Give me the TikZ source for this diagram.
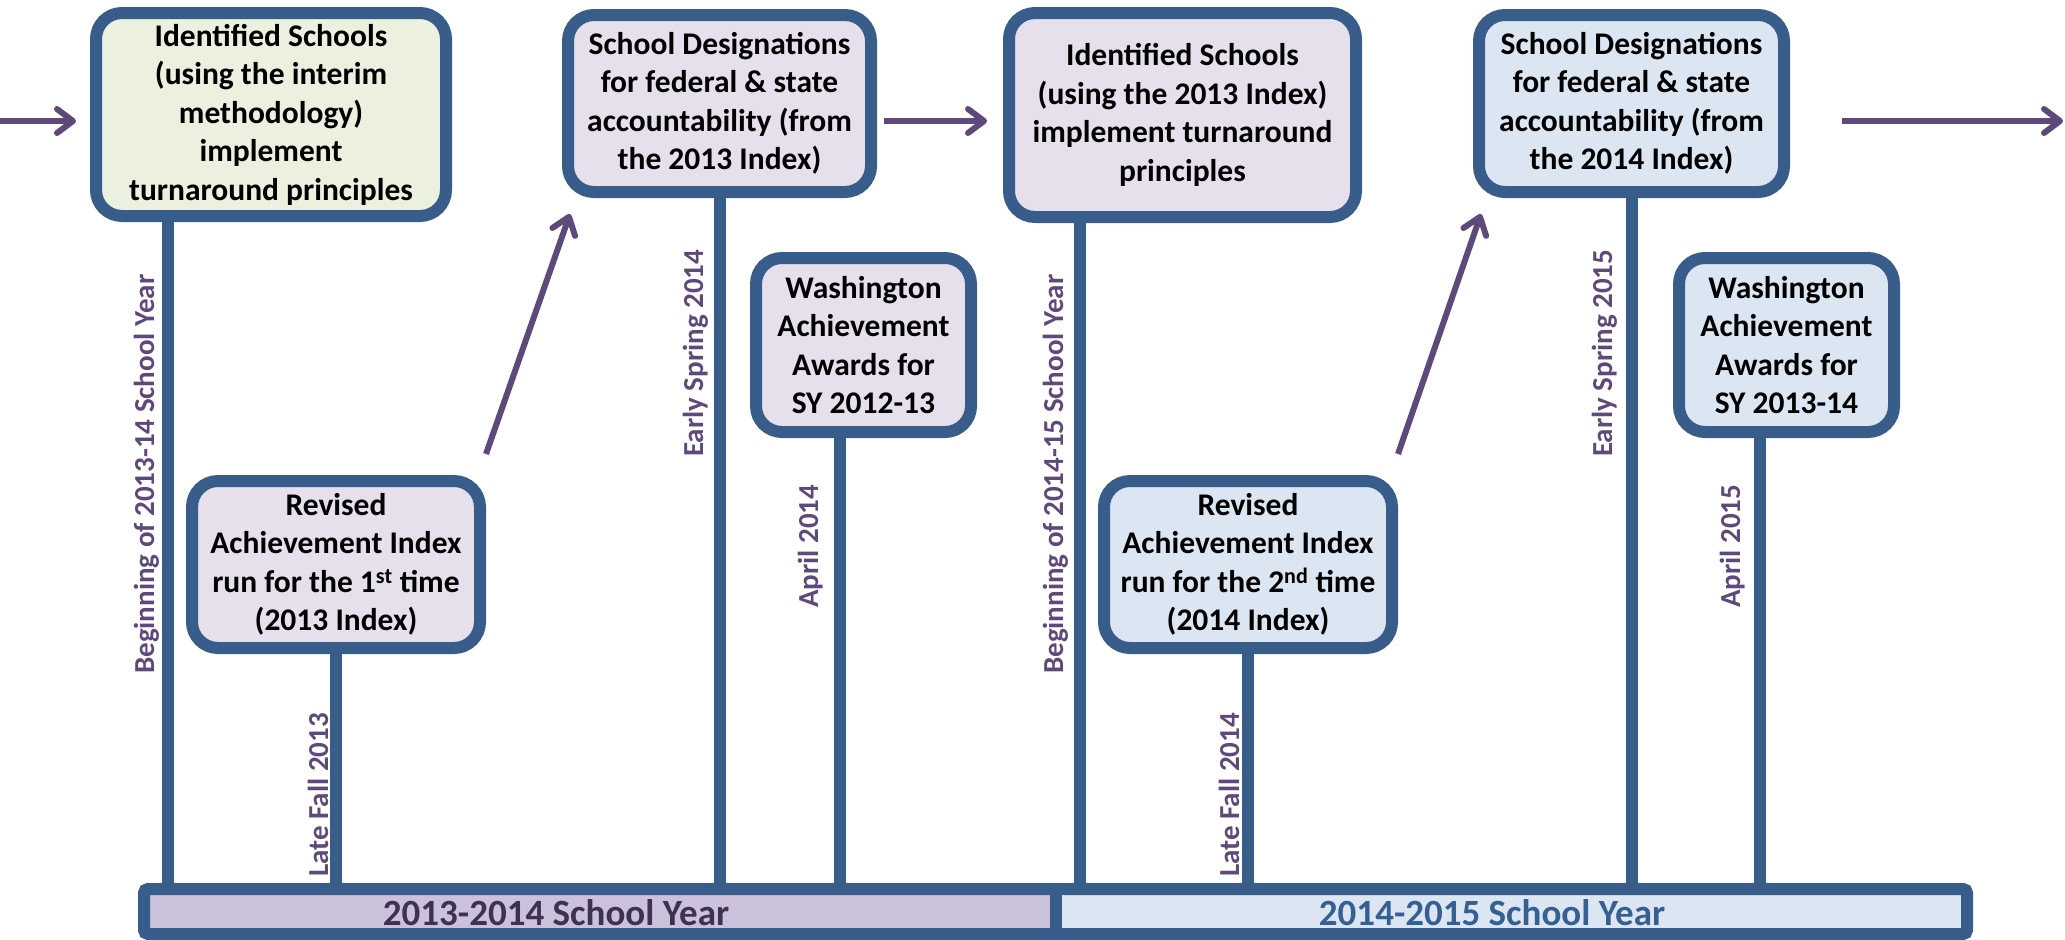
\documentclass[tikz,border=0pt]{standalone}
\usepackage{fontspec}
\setmainfont{Carlito}
\usetikzlibrary{arrows.meta}
\definecolor{bord}{HTML}{385D8A}
\definecolor{fillP}{HTML}{E5E0EC}
\definecolor{fillG}{HTML}{EBF1DE}
\definecolor{fillB}{HTML}{DCE6F2}
\definecolor{barP}{HTML}{CCC1DA}
\definecolor{arrc}{HTML}{5F497A}
\definecolor{labc}{HTML}{5F497A}
\definecolor{yrP}{HTML}{3F3151}
\definecolor{yrB}{HTML}{376092}
\begin{document}
\begin{tikzpicture}[x=1pt,y=-1pt,
 box/.style={draw=bord, line width=12pt, rounded corners=26pt, align=center, inner sep=0pt, font=\fontsize{31.5}{38.5}\selectfont\bfseries},
 stem/.style={draw=bord, line width=12pt},
 arr/.style={draw=arrc, line width=6pt, -{Straight Barb[length=16pt,width=24pt,round]}},
 lab/.style={rotate=90, anchor=base west, inner sep=0pt, text=labc, font=\fontsize{29}{35}\selectfont\bfseries},
 yr/.style={inner sep=0pt, font=\fontsize{37}{44}\selectfont\bfseries}]
\useasboundingbox (0,0) rectangle (2065,940);

% bar fills
\fill[barP] (144,889) rectangle (1056,934);
\fill[fillB] (1056,889) rectangle (1967,934);
\node[draw=bord, line width=12pt, rounded corners=4pt, minimum width=1823pt, minimum height=45pt, inner sep=0pt] (bar) at (1055.5,911.5) {};
\coordinate (dv) at (1056,0);
\draw[stem] (dv |- bar.north) -- (dv |- bar.south);
\node[yr, text=yrP] (yr1) at (556,913) {2013-2014 School Year};
\node[yr, text=yrB] (yr2) at (1492,913) {2014-2015 School Year};

% boxes
\node[box, fill=fillG, minimum width=350pt, minimum height=203pt] (box1) at (271,114.5) {Identified Schools\\(using the interim\\methodology)\\implement\\turnaround principles};
\node[box, fill=fillP, minimum width=303pt, minimum height=177pt] (box2) at (719.5,103.5) {School Designations\\for federal \& state\\accountability (from\\the 2013 Index)};
\node[box, fill=fillP, minimum width=347pt, minimum height=204pt] (box3) at (1182.5,115) {Identified Schools\\(using the 2013 Index)\\implement turnaround\\principles};
\node[box, fill=fillB, minimum width=305pt, minimum height=177pt] (box4) at (1631.5,103.5) {School Designations\\for federal \& state\\accountability (from\\the 2014 Index)};
\node[box, fill=fillP, minimum width=215pt, minimum height=174pt] (box5) at (863.5,345) {Washington\\Achievement\\Awards for\\SY 2012-13};
\node[box, fill=fillP, minimum width=288pt, minimum height=167pt] (box6) at (336,564.5) {Revised\\Achievement Index\\run for the 1\textsuperscript{st} time\\(2013 Index)};
\node[box, fill=fillB, minimum width=288pt, minimum height=167pt] (box7) at (1248,564.5) {Revised\\Achievement Index\\run for the 2\textsuperscript{nd} time\\(2014 Index)};
\node[box, fill=fillB, minimum width=215pt, minimum height=174pt] (box8) at (1786.5,345) {Washington\\Achievement\\Awards for\\SY 2013-14};

% stems
\coordinate (s1) at (168,0);
\coordinate (s2) at (336,0);
\coordinate (s3) at (720,0);
\coordinate (s4) at (840,0);
\coordinate (s5) at (1080,0);
\coordinate (s6) at (1248,0);
\coordinate (s7) at (1632,0);
\coordinate (s8) at (1760,0);
\draw[stem] (s1 |- box1.south) -- (s1 |- bar.north);
\draw[stem] (s2 |- box6.south) -- (s2 |- bar.north);
\draw[stem] (s3 |- box2.south) -- (s3 |- bar.north);
\draw[stem] (s4 |- box5.south) -- (s4 |- bar.north);
\draw[stem] (s5 |- box3.south) -- (s5 |- bar.north);
\draw[stem] (s6 |- box7.south) -- (s6 |- bar.north);
\draw[stem] (s7 |- box4.south) -- (s7 |- bar.north);
\draw[stem] (s8 |- box8.south) -- (s8 |- bar.north);

% labels
\node[lab] (l1) at (154,674) {Beginning of 2013-14 School Year};
\node[lab] (l2) at (328,877) {Late Fall 2013};
\node[lab] (l3) at (703,457) {Early Spring 2014};
\node[lab] (l4) at (818,608) {April 2014};
\node[lab] (l5) at (1063,674) {Beginning of 2014-15 School Year};
\node[lab] (l6) at (1239,877) {Late Fall 2014};
\node[lab] (l7) at (1612,457) {Early Spring 2015};
\node[lab] (l8) at (1740,608) {April 2015};

% arrows
\coordinate (ay) at (0,121);
\coordinate (aend) at (2063,121);
\draw[arr] (ay) -- ([xshift=-14pt]box1.west |- ay);
\draw[arr] ([xshift=7pt]box2.east |- ay) -- ([xshift=-16pt]box3.west |- ay);
\draw[arr] ([xshift=52pt]box4.east |- ay) -- (aend);
\draw[arr] ([shift={(0,-21)}]box6.north east) -- ([shift={(8,16)}]box2.south west);
\draw[arr] ([shift={(0,-21)}]box7.north east) -- ([shift={(8,16)}]box4.south west);
\end{tikzpicture}
\end{document}
